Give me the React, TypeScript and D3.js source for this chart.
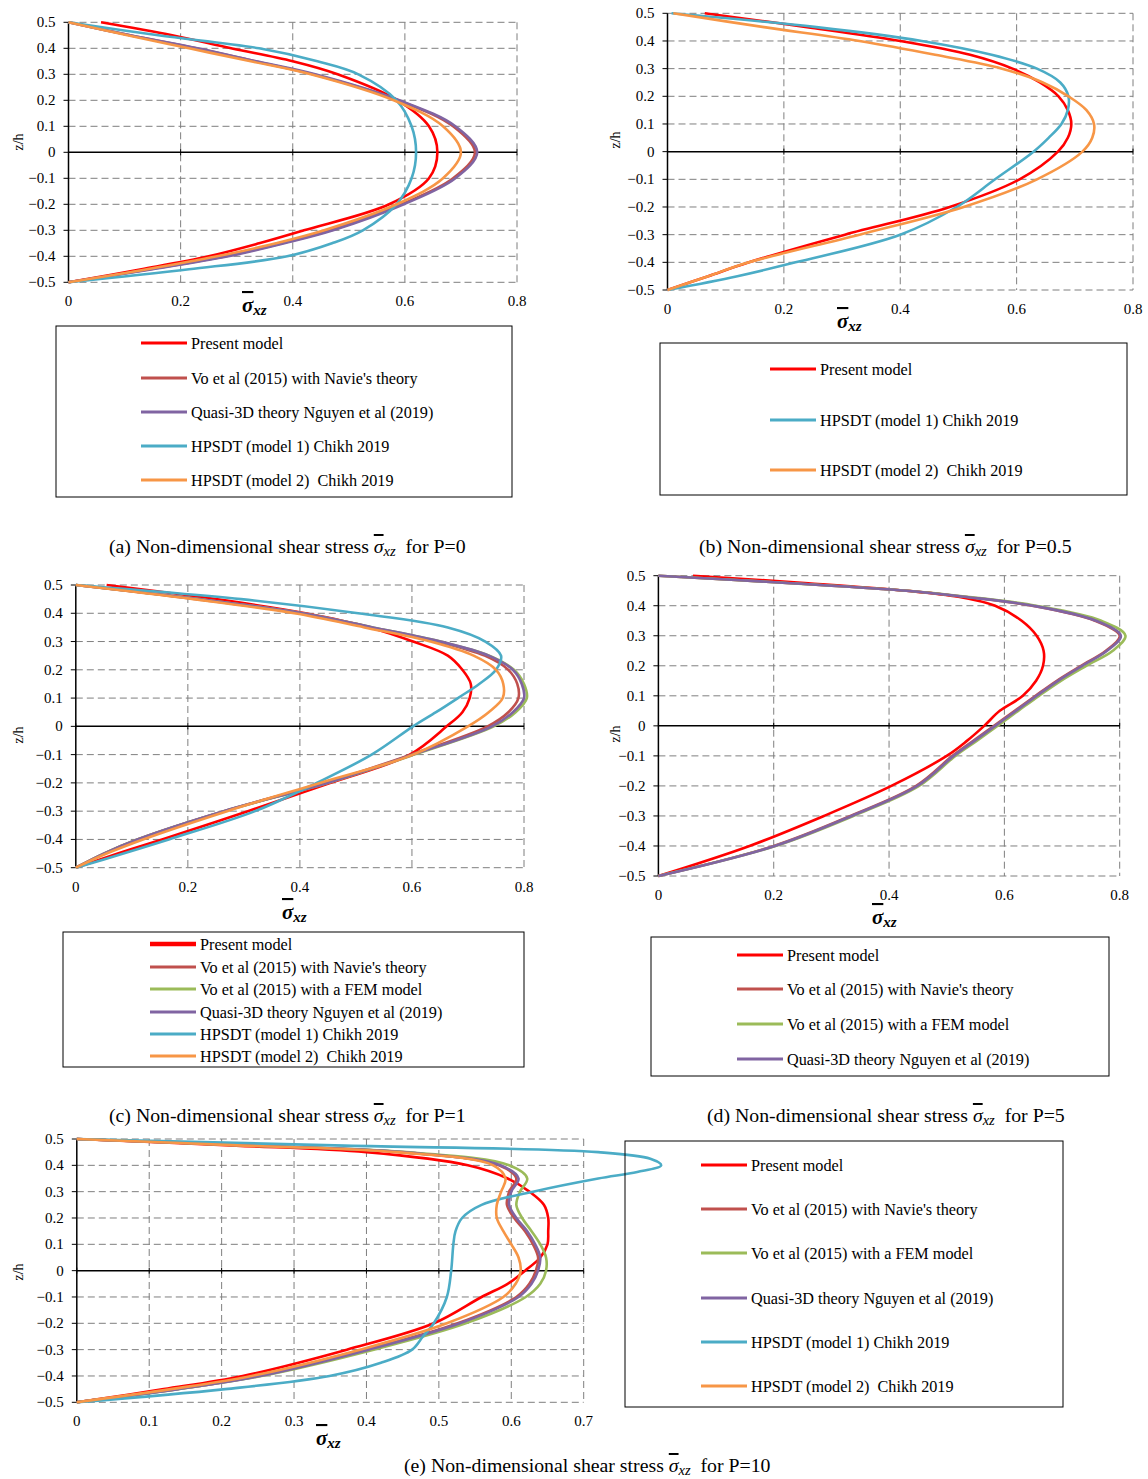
import React from "react";
import * as d3 from "d3";

const RED = "#FF0000";
const BROWN = "#C0504D";
const GREEN = "#9BBB59";
const PURPLE = "#8064A2";
const CYAN = "#4BACC6";
const ORANGE = "#F79646";

const NAMES = {
  present: "Present model",
  voNavier: "Vo et al (2015) with Navie's theory",
  voFem: "Vo et al (2015) with a FEM model",
  quasi: "Quasi-3D theory Nguyen et al (2019)",
  chikh1: "HPSDT (model 1) Chikh 2019",
  chikh2: "HPSDT (model 2)  Chikh 2019",
};

const zTicks = [0.5, 0.4, 0.3, 0.2, 0.1, 0, -0.1, -0.2, -0.3, -0.4, -0.5];
const xTicks08 = [0, 0.2, 0.4, 0.6, 0.8];
const xTicks07 = [0, 0.1, 0.2, 0.3, 0.4, 0.5, 0.6, 0.7];

// (a) P=0
const zA = [-0.5, -0.45, -0.4, -0.35, -0.3, -0.2, -0.1, 0, 0.1, 0.2, 0.3, 0.35, 0.4, 0.45, 0.5];
const presentA = [0, 0.13, 0.25, 0.34, 0.42, 0.572, 0.643, 0.658, 0.643, 0.587, 0.48, 0.4, 0.29, 0.185, 0.058];
const voNavierA = [0, 0.145, 0.28, 0.38, 0.468, 0.594, 0.686, 0.725, 0.686, 0.588, 0.436, 0.333, 0.228, 0.11, 0];
const quasiA = [0, 0.15, 0.285, 0.385, 0.472, 0.598, 0.69, 0.729, 0.69, 0.59, 0.44, 0.335, 0.23, 0.11, 0];
const chikh1A = [0, 0.215, 0.39, 0.47, 0.525, 0.585, 0.612, 0.62, 0.612, 0.585, 0.517, 0.444, 0.34, 0.16, 0];
const chikh2A = [0, 0.14, 0.265, 0.37, 0.456, 0.585, 0.668, 0.7, 0.668, 0.58, 0.432, 0.325, 0.215, 0.105, 0];

// (b) P=0.5
const zB = [-0.5, -0.45, -0.4, -0.3, -0.2, -0.1, 0, 0.05, 0.1, 0.15, 0.2, 0.25, 0.3, 0.35, 0.4, 0.45, 0.5];
const presentB = [0, 0.07, 0.14, 0.305, 0.485, 0.605, 0.671, 0.688, 0.694, 0.688, 0.672, 0.64, 0.593, 0.52, 0.4, 0.24, 0.064];
const chikh1B = [0, 0.12, 0.22, 0.4, 0.497, 0.563, 0.629, 0.655, 0.677, 0.688, 0.689, 0.675, 0.635, 0.557, 0.437, 0.256, 0.007];
const chikh2B = [0, 0.07, 0.14, 0.33, 0.509, 0.635, 0.713, 0.73, 0.733, 0.72, 0.689, 0.645, 0.575, 0.46, 0.33, 0.166, 0.01];

// (c) P=1
const zC = [-0.5, -0.45, -0.4, -0.3, -0.2, -0.1, 0, 0.05, 0.1, 0.15, 0.2, 0.25, 0.3, 0.35, 0.4, 0.45, 0.5];
const presentC = [0, 0.075, 0.154, 0.307, 0.455, 0.596, 0.662, 0.69, 0.703, 0.705, 0.69, 0.664, 0.602, 0.525, 0.41, 0.25, 0.055];
const voNavierC = [0, 0.05, 0.11, 0.264, 0.445, 0.598, 0.735, 0.772, 0.79, 0.788, 0.772, 0.73, 0.645, 0.527, 0.4, 0.215, 0];
const voFemC = [0, 0.05, 0.11, 0.265, 0.45, 0.604, 0.746, 0.785, 0.805, 0.8, 0.782, 0.738, 0.651, 0.53, 0.405, 0.22, 0];
const quasiC = [0, 0.05, 0.11, 0.264, 0.449, 0.602, 0.743, 0.78, 0.8, 0.796, 0.78, 0.737, 0.651, 0.53, 0.405, 0.22, 0];
const chikh1C = [0, 0.085, 0.166, 0.32, 0.43, 0.528, 0.602, 0.643, 0.682, 0.72, 0.75, 0.759, 0.731, 0.664, 0.504, 0.295, 0];
const chikh2C = [0, 0.055, 0.12, 0.27, 0.436, 0.602, 0.7, 0.737, 0.762, 0.763, 0.75, 0.71, 0.633, 0.515, 0.39, 0.21, 0];

// (d) P=5
const zD = [-0.5, -0.4, -0.3, -0.2, -0.1, -0.05, 0, 0.05, 0.1, 0.15, 0.2, 0.25, 0.3, 0.35, 0.4, 0.43, 0.45, 0.475, 0.5];
const presentD = [0, 0.158, 0.287, 0.404, 0.5, 0.535, 0.565, 0.592, 0.632, 0.655, 0.667, 0.668, 0.656, 0.63, 0.584, 0.52, 0.43, 0.26, 0.06];
const voNavierD = [0, 0.2, 0.333, 0.447, 0.51, 0.546, 0.582, 0.618, 0.654, 0.691, 0.733, 0.776, 0.8, 0.757, 0.648, 0.53, 0.43, 0.23, 0];
const voFemD = [0, 0.203, 0.338, 0.452, 0.515, 0.552, 0.588, 0.624, 0.66, 0.698, 0.742, 0.788, 0.81, 0.768, 0.655, 0.535, 0.432, 0.23, 0];
const quasiD = [0, 0.202, 0.335, 0.449, 0.512, 0.548, 0.584, 0.62, 0.656, 0.693, 0.735, 0.778, 0.802, 0.759, 0.65, 0.53, 0.43, 0.23, 0];

// (e) P=10
const zE = [-0.5, -0.45, -0.4, -0.3, -0.2, -0.1, -0.05, 0, 0.05, 0.1, 0.15, 0.2, 0.25, 0.3, 0.35, 0.4, 0.45, 0.475, 0.5];
const presentE = [0, 0.12, 0.229, 0.373, 0.493, 0.559, 0.595, 0.619, 0.64, 0.65, 0.651, 0.651, 0.645, 0.625, 0.595, 0.54, 0.4, 0.22, 0];
const voNavierE = [0, 0.138, 0.25, 0.4, 0.526, 0.607, 0.625, 0.634, 0.637, 0.63, 0.619, 0.604, 0.594, 0.597, 0.607, 0.583, 0.448, 0.24, 0];
const voFemE = [0, 0.14, 0.255, 0.41, 0.537, 0.62, 0.64, 0.648, 0.648, 0.64, 0.628, 0.615, 0.607, 0.612, 0.622, 0.597, 0.455, 0.24, 0];
const quasiE = [0, 0.14, 0.253, 0.403, 0.529, 0.61, 0.628, 0.637, 0.64, 0.633, 0.622, 0.607, 0.597, 0.6, 0.61, 0.585, 0.45, 0.24, 0];
const chikh2E = [0, 0.13, 0.241, 0.391, 0.511, 0.589, 0.606, 0.613, 0.61, 0.6, 0.589, 0.58, 0.58, 0.586, 0.592, 0.575, 0.44, 0.23, 0];
const zCyanE = [-0.5, -0.45, -0.4, -0.35, -0.3, -0.25, -0.2, -0.1, 0, 0.1, 0.15, 0.2, 0.25, 0.3, 0.35, 0.375, 0.4, 0.425, 0.45, 0.475, 0.5];
const chikh1E = [0, 0.205, 0.349, 0.42, 0.463, 0.478, 0.493, 0.511, 0.517, 0.52, 0.523, 0.532, 0.559, 0.63, 0.72, 0.774, 0.807, 0.792, 0.72, 0.37, 0];

type Series = { key: keyof typeof NAMES; color: string; xs: number[]; zs: number[] };

const FONT = "'Liberation Serif', 'Times New Roman', serif";

function Sigma({ x, y }: { x: number; y: number }) {
  return (
    <text x={x} y={y} fontFamily={FONT} fontWeight="bold" fontStyle="italic" fontSize={21} fill="#000">
      <tspan style={{ textDecoration: "overline" }}>σ</tspan>
      <tspan fontSize={15} dy={3}>xz</tspan>
    </text>
  );
}

function Panel(props: {
  left: number; right: number; top: number; bottom: number;
  xMax: number; ticks: number[]; series: Series[];
  zhX: number; zhY: number; sigX: number; sigY: number;
  legend: { x: number; y: number; w: number; h: number; lineX: number; rows: number[]; thickFirst?: boolean };
}) {
  const { left, right, top, bottom, xMax, ticks, series, legend } = props;
  const x = d3.scaleLinear().domain([0, xMax]).range([left, right]);
  const y = d3.scaleLinear().domain([-0.5, 0.5]).range([bottom, top]);
  const line = d3
    .line<[number, number]>()
    .x((d) => x(d[0]))
    .y((d) => y(d[1]))
    .curve(d3.curveCatmullRom.alpha(0.5));
  const fmt = (v: number) => (v === 0 ? "0" : d3.format(".1f")(v));

  return (
    <g>
      {/* grid */}
      {zTicks.map((t) =>
        t === 0 ? null : (
          <line key={"gy" + t} x1={left} x2={right} y1={y(t)} y2={y(t)} stroke="#7f7f7f" strokeDasharray="7,4" />
        )
      )}
      {ticks.slice(1).map((t) => (
        <line key={"gx" + t} x1={x(t)} x2={x(t)} y1={top} y2={bottom} stroke="#7f7f7f" strokeDasharray="7,4" />
      ))}
      {/* axes */}
      <line x1={left} x2={left} y1={top} y2={bottom} stroke="#000" strokeWidth={1.5} />
      <line x1={left} x2={right} y1={y(0)} y2={y(0)} stroke="#000" strokeWidth={1.5} />
      {zTicks.map((t) => (
        <line key={"ty" + t} x1={left - 5} x2={left} y1={y(t)} y2={y(t)} stroke="#000" />
      ))}
      {ticks.map((t) => (
        <line key={"tx" + t} x1={x(t)} x2={x(t)} y1={y(0) - 3} y2={y(0) + 3} stroke="#000" />
      ))}
      {zTicks.map((t) => (
        <text key={"ly" + t} x={left - 13} y={y(t) + 5} textAnchor="end" fontFamily={FONT} fontSize={15}>
          {fmt(t)}
        </text>
      ))}
      {ticks.map((t) => (
        <text key={"lx" + t} x={x(t)} y={bottom + 24} textAnchor="middle" fontFamily={FONT} fontSize={15}>
          {fmt(t)}
        </text>
      ))}
      <text
        transform={`translate(${props.zhX},${props.zhY}) rotate(-90)`}
        textAnchor="middle"
        fontFamily={FONT}
        fontSize={14}
        dy={5}
      >
        z/h
      </text>
      <Sigma x={props.sigX} y={props.sigY} />
      {/* curves */}
      {series.map((s) => (
        <path
          key={s.key}
          d={line(s.xs.map((v, i) => [v, s.zs[i]] as [number, number])) || ""}
          fill="none"
          stroke={s.color}
          strokeWidth={2.6}
        />
      ))}
      {/* legend */}
      <rect x={legend.x} y={legend.y} width={legend.w} height={legend.h} fill="none" stroke="#000" strokeWidth={1} />
      {series.map((s, i) => (
        <g key={"lg" + s.key}>
          <line
            x1={legend.lineX}
            x2={legend.lineX + 46}
            y1={legend.rows[i]}
            y2={legend.rows[i]}
            stroke={s.color}
            strokeWidth={legend.thickFirst && i === 0 ? 4.5 : 3}
          />
          <text
            x={legend.lineX + 50}
            y={legend.rows[i] + 5.5}
            fontFamily={FONT}
            fontSize={16.2}
            style={{ whiteSpace: "pre" }}
          >
            {NAMES[s.key]}
          </text>
        </g>
      ))}
    </g>
  );
}

function Caption({ x, y, label, p }: { x: number; y: number; label: string; p: string }) {
  return (
    <text x={x} y={y} fontFamily={FONT} fontSize={19.8} style={{ whiteSpace: "pre" }}>
      {`(${label}) Non-dimensional shear stress `}
      <tspan fontStyle="italic" style={{ textDecoration: "overline" }}>σ</tspan>
      <tspan fontStyle="italic" fontSize={14.5} dy={3}>xz</tspan>
      <tspan dy={-3}>{`  for P=${p}`}</tspan>
    </text>
  );
}

export default function App() {
  const sA: Series[] = [
    { key: "present", color: RED, xs: presentA, zs: zA },
    { key: "voNavier", color: BROWN, xs: voNavierA, zs: zA },
    { key: "quasi", color: PURPLE, xs: quasiA, zs: zA },
    { key: "chikh1", color: CYAN, xs: chikh1A, zs: zA },
    { key: "chikh2", color: ORANGE, xs: chikh2A, zs: zA },
  ];
  const sB: Series[] = [
    { key: "present", color: RED, xs: presentB, zs: zB },
    { key: "chikh1", color: CYAN, xs: chikh1B, zs: zB },
    { key: "chikh2", color: ORANGE, xs: chikh2B, zs: zB },
  ];
  const sC: Series[] = [
    { key: "present", color: RED, xs: presentC, zs: zC },
    { key: "voNavier", color: BROWN, xs: voNavierC, zs: zC },
    { key: "voFem", color: GREEN, xs: voFemC, zs: zC },
    { key: "quasi", color: PURPLE, xs: quasiC, zs: zC },
    { key: "chikh1", color: CYAN, xs: chikh1C, zs: zC },
    { key: "chikh2", color: ORANGE, xs: chikh2C, zs: zC },
  ];
  const sD: Series[] = [
    { key: "present", color: RED, xs: presentD, zs: zD },
    { key: "voNavier", color: BROWN, xs: voNavierD, zs: zD },
    { key: "voFem", color: GREEN, xs: voFemD, zs: zD },
    { key: "quasi", color: PURPLE, xs: quasiD, zs: zD },
  ];
  const sE: Series[] = [
    { key: "present", color: RED, xs: presentE, zs: zE },
    { key: "voNavier", color: BROWN, xs: voNavierE, zs: zE },
    { key: "voFem", color: GREEN, xs: voFemE, zs: zE },
    { key: "quasi", color: PURPLE, xs: quasiE, zs: zE },
    { key: "chikh1", color: CYAN, xs: chikh1E, zs: zCyanE },
    { key: "chikh2", color: ORANGE, xs: chikh2E, zs: zE },
  ];

  return (
    <div style={{ position: "absolute", left: 0, top: 0, background: "#fff" }}>
      <svg width={1148} height={1479} style={{ display: "block" }}>
        <rect width={1148} height={1479} fill="#fff" />
        <Panel
          left={68.5} right={517} top={22.3} bottom={282.3} xMax={0.8} ticks={xTicks08} series={sA}
          zhX={18} zhY={142} sigX={242} sigY={312}
          legend={{ x: 56, y: 326, w: 456, h: 171, lineX: 141, rows: [343, 378, 412, 446, 480] }}
        />
        <Panel
          left={667.5} right={1133} top={13.3} bottom={290} xMax={0.8} ticks={xTicks08} series={sB}
          zhX={615} zhY={140} sigX={837} sigY={328}
          legend={{ x: 660, y: 343, w: 467, h: 152, lineX: 770, rows: [369, 420, 470] }}
        />
        <Panel
          left={75.8} right={524} top={585} bottom={867.7} xMax={0.8} ticks={xTicks08} series={sC}
          zhX={18} zhY={735} sigX={282} sigY={919}
          legend={{ x: 63, y: 932, w: 461, h: 135, lineX: 150, rows: [944, 967, 989, 1012, 1034, 1056], thickFirst: true }}
        />
        <Panel
          left={658.4} right={1119.7} top={575.7} bottom={876} xMax={0.8} ticks={xTicks08} series={sD}
          zhX={615} zhY={734} sigX={872} sigY={924}
          legend={{ x: 651, y: 937, w: 458, h: 139, lineX: 737, rows: [955, 989, 1024, 1059] }}
        />
        <Panel
          left={76.8} right={583.7} top={1139} bottom={1402.3} xMax={0.7} ticks={xTicks07} series={sE}
          zhX={18} zhY={1272} sigX={316} sigY={1445}
          legend={{ x: 625, y: 1141, w: 438, h: 266, lineX: 701, rows: [1165, 1209, 1253, 1298, 1342, 1386] }}
        />
        <Caption x={109} y={553} label="a" p="0" />
        <Caption x={699} y={553} label="b" p="0.5" />
        <Caption x={109} y={1122} label="c" p="1" />
        <Caption x={707} y={1122} label="d" p="5" />
        <Caption x={404} y={1472} label="e" p="10" />
      </svg>
    </div>
  );
}
